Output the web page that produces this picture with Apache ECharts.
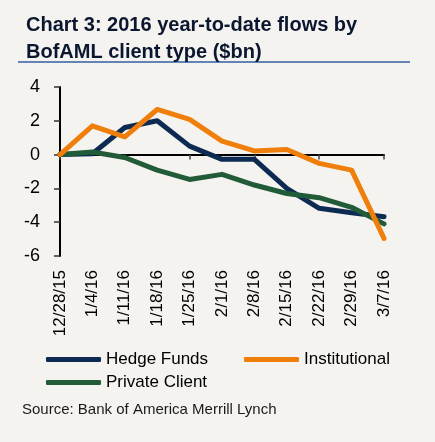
<!DOCTYPE html>
<html>
<head>
<meta charset="utf-8">
<script src="https://cdn.jsdelivr.net/npm/echarts@6/dist/echarts.min.js"></script>
<style>
  html, body { margin: 0; padding: 0; background: #f4f3ef; }
  #chart { width: 435px; height: 442px; }
</style>
</head>
<body>
<div id="chart"></div>
<script>
const categories = ['12/28/15','1/4/16','1/11/16','1/18/16','1/25/16','2/1/16','2/8/16','2/15/16','2/22/16','2/29/16','3/7/16'];
const hedgeFunds = [0, 0.05, 1.6, 2.0, 0.5, -0.28, -0.28, -2.0, -3.18, -3.44, -3.68];
const institutional = [0, 1.7, 1.05, 2.67, 2.08, 0.8, 0.22, 0.3, -0.52, -0.92, -4.96];
const privateClient = [0, 0.15, -0.17, -0.92, -1.47, -1.17, -1.8, -2.3, -2.55, -3.12, -4.1];
const yTicks = { min: -6, max: 4, interval: 2 };

const FONT = '"Liberation Sans", Arial, sans-serif';
const colors = { hedge: '#0d2b52', inst: '#f07e0a', priv: '#225b37' };

const chart = echarts.init(document.getElementById('chart'));

function legendAt(name, left, top) {
  return {
    data: [name], left: left, top: top, icon: 'roundRect',
    itemWidth: 55, itemHeight: 5, itemGap: 0,
    textStyle: { fontFamily: FONT, fontSize: 17, color: '#000' },
    selectedMode: false
  };
}

function lineSeries(name, data, color, z) {
  return {
    name: name, type: 'line', data: data, xAxisIndex: 0, yAxisIndex: 0,
    symbol: 'none', smooth: false, z: z, color: color,
    lineStyle: { color: color, width: 5, cap: 'round', join: 'round' },
    itemStyle: { color: color }
  };
}

chart.setOption({
  backgroundColor: '#f4f3ef',
  animation: false,
  title: {
    text: 'Chart 3: 2016 year-to-date flows by\nBofAML client type ($bn)',
    left: 21, top: 7,
    textStyle: { fontFamily: FONT, fontWeight: 'bold', fontSize: 20, lineHeight: 27, color: '#0b1730' }
  },
  legend: [
    legendAt('Hedge Funds', 41, 346),
    legendAt('Institutional', 239, 346),
    legendAt('Private Client', 41, 369)
  ],
  grid: { left: 60, right: 51, top: 87, bottom: 186, containLabel: false },
  xAxis: [{
    type: 'category', data: categories, boundaryGap: false,
    axisLine: { onZero: true, lineStyle: { color: '#000', width: 2 } },
    axisTick: { show: true, length: 5, lineStyle: { color: '#444', width: 1.5 } },
    axisLabel: { show: false }, splitLine: { show: false }
  }, {
    type: 'category', data: categories, boundaryGap: false, position: 'bottom',
    axisLine: { show: false, onZero: false }, axisTick: { show: false },
    axisLabel: { show: true, rotate: 90, margin: 14, interval: 0, fontFamily: FONT, fontSize: 17, color: '#000' },
    splitLine: { show: false }
  }],
  yAxis: {
    type: 'value', min: yTicks.min, max: yTicks.max, interval: yTicks.interval,
    axisLine: { show: true, lineStyle: { color: '#000', width: 2 } },
    axisTick: { show: true, length: 6, lineStyle: { color: '#333', width: 1.5 } },
    axisLabel: { margin: 20, fontFamily: FONT, fontSize: 18, color: '#000' },
    splitLine: { show: false }
  },
  graphic: [{
    type: 'line', shape: { x1: 18, y1: 62, x2: 410, y2: 62 },
    style: { stroke: '#6283b3', lineWidth: 2 }
  }, {
    type: 'text', left: 22, top: 402,
    style: { text: 'Source: Bank of America Merrill Lynch', fontFamily: FONT, fontSize: 15, fill: '#1a1a1a' }
  }],
  series: [
    lineSeries('Hedge Funds', hedgeFunds, colors.hedge, 2),
    lineSeries('Private Client', privateClient, colors.priv, 3),
    lineSeries('Institutional', institutional, colors.inst, 4)
  ]
});
</script>
</body>
</html>
